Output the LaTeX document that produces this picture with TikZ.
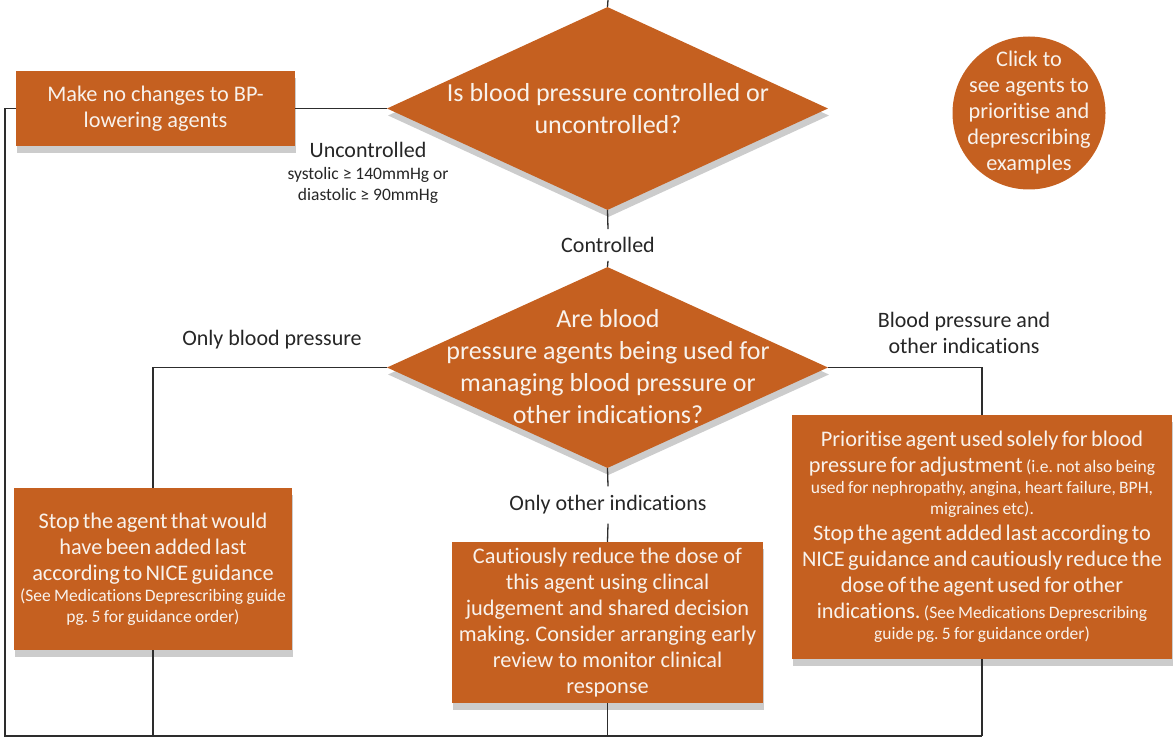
\documentclass[tikz,border=0pt]{standalone}
\usepackage{fontspec}
\setmainfont{Carlito}[Ligatures=NoCommon]
\usetikzlibrary{shapes.geometric,shadows}
\definecolor{bporange}{RGB}{197,96,32}
\definecolor{txtw}{RGB}{248,242,236}
\definecolor{lin}{RGB}{45,45,45}
\newcommand\fA{\fontsize{22.3}{26}\selectfont}
\newcommand\fB{\fontsize{17.5}{21}\selectfont}
\newcommand\fD{\fontsize{26}{32}\selectfont}
\newcommand\fL{\fontsize{22}{26}\selectfont}
\newcommand\fS{\fontsize{17.5}{22}\selectfont}
\frenchspacing
\begin{document}
\begin{tikzpicture}[x=1pt,y=-1pt,
  shad/.style={drop shadow={shadow xshift=1pt, shadow yshift=-7pt, fill=black!20, opacity=1}},
  box/.style={rectangle, fill=bporange, inner sep=0pt, text=txtw, align=center, shad},
  dia/.style={diamond, fill=bporange, inner sep=0pt, shad},
  txt/.style={text=txtw, align=center, inner sep=0pt},
  lbl/.style={text=black!85, align=center, font=\fL},
  conn/.style={draw=lin, line width=1.3pt}]
\useasboundingbox (0,0) rectangle (1175,738);
% coordinates
\coordinate (top) at (608,0);
\coordinate (bl) at (5,736);
\coordinate (br) at (982,736);
% diamonds
\node[dia, minimum width=441, minimum height=203] (d1) at (607.5,108.5) {};
\node[txt, font=\fD] (d1t) at (608,109) {Is blood pressure controlled or\\uncontrolled?};
\node[dia, minimum width=441, minimum height=201] (d2) at (607.5,367.5) {};
\node[txt, font=\fD] (d2t) at (608,367) {Are blood\\pressure agents being used for\\managing blood pressure or\\other indications?};
% boxes
\node[box, font=\fA, minimum width=279, minimum height=75] (b1) at (155.5,108.5) {Make no changes to BP-\\lowering agents};
\node[box, minimum width=278, minimum height=162, text width=276] (b2) at (153,569) {{\fA Stop the agent that would\\have been added last\\according to NICE guidance\par}{\fB (See Medications Deprescribing guide\\pg. 5 for guidance order)\par}};
\node[box, font=\fA, minimum width=311, minimum height=161] (b3) at (607.5,622.5) {Cautiously reduce the dose of\\this agent using clincal\\judgement and shared decision\\making. Consider arranging early\\review to monitor clinical\\response};
\node[box, minimum width=380, minimum height=244, text width=378] (b4) at (982,537) {{\fA Prioritise agent used solely for blood\\pressure for adjustment {\fB (i.e. not also being}\par}{\fB used for nephropathy, angina, heart failure, BPH,\\migraines etc).\par}{\fA Stop the agent added last according to\\NICE guidance and cautiously reduce the\\dose of the agent used for other\\indications. {\fB (See Medications Deprescribing}\par}{\fB guide pg. 5 for guidance order)\par}};
% circle
\node[circle, fill=bporange, minimum size=153, inner sep=0pt] (c1) at (1029,113) {};
\node[txt, font=\fA] (c1t) at (1029,112.5) {Click to\\see agents to\\prioritise and\\deprescribing\\examples};
% labels
\node[lbl, inner ysep=8pt] (ctrl) at (608,245) {Controlled};
\node[lbl, inner ysep=9pt] (oth) at (608,505) {Only other indications};
\node[lbl] (obp) at (272,340) {Only blood pressure};
\node[lbl] (bpo) at (964,333) {Blood pressure and\\other indications};
\node[lbl] (unc) at (368,173) {Uncontrolled\\[-4pt]{\fS systolic ≥ 140mmHg or}\\[-5pt]{\fS diastolic ≥ 90mmHg}};
% connectors
\draw[conn] (top) -- (d1.north);
\draw[conn] (d1.west) -- (b1.east);
\draw[conn] (b1.west) -- (bl |- b1.west) -- (bl) -- (br);
\draw[conn] (d1.south) -- (ctrl.north);
\draw[conn] (ctrl.south) -- (d2.north);
\draw[conn] (d2.west) -| (b2.north);
\draw[conn] (b2.south) -- (b2.south |- bl);
\draw[conn] (d2.south) -- (oth.north);
\draw[conn] (oth.south) -- (b3.north);
\draw[conn] (b3.south) -- (b3.south |- bl);
\draw[conn] (d2.east) -| (b4.north);
\draw[conn] (b4.south) -- (br);
\end{tikzpicture}
\end{document}
